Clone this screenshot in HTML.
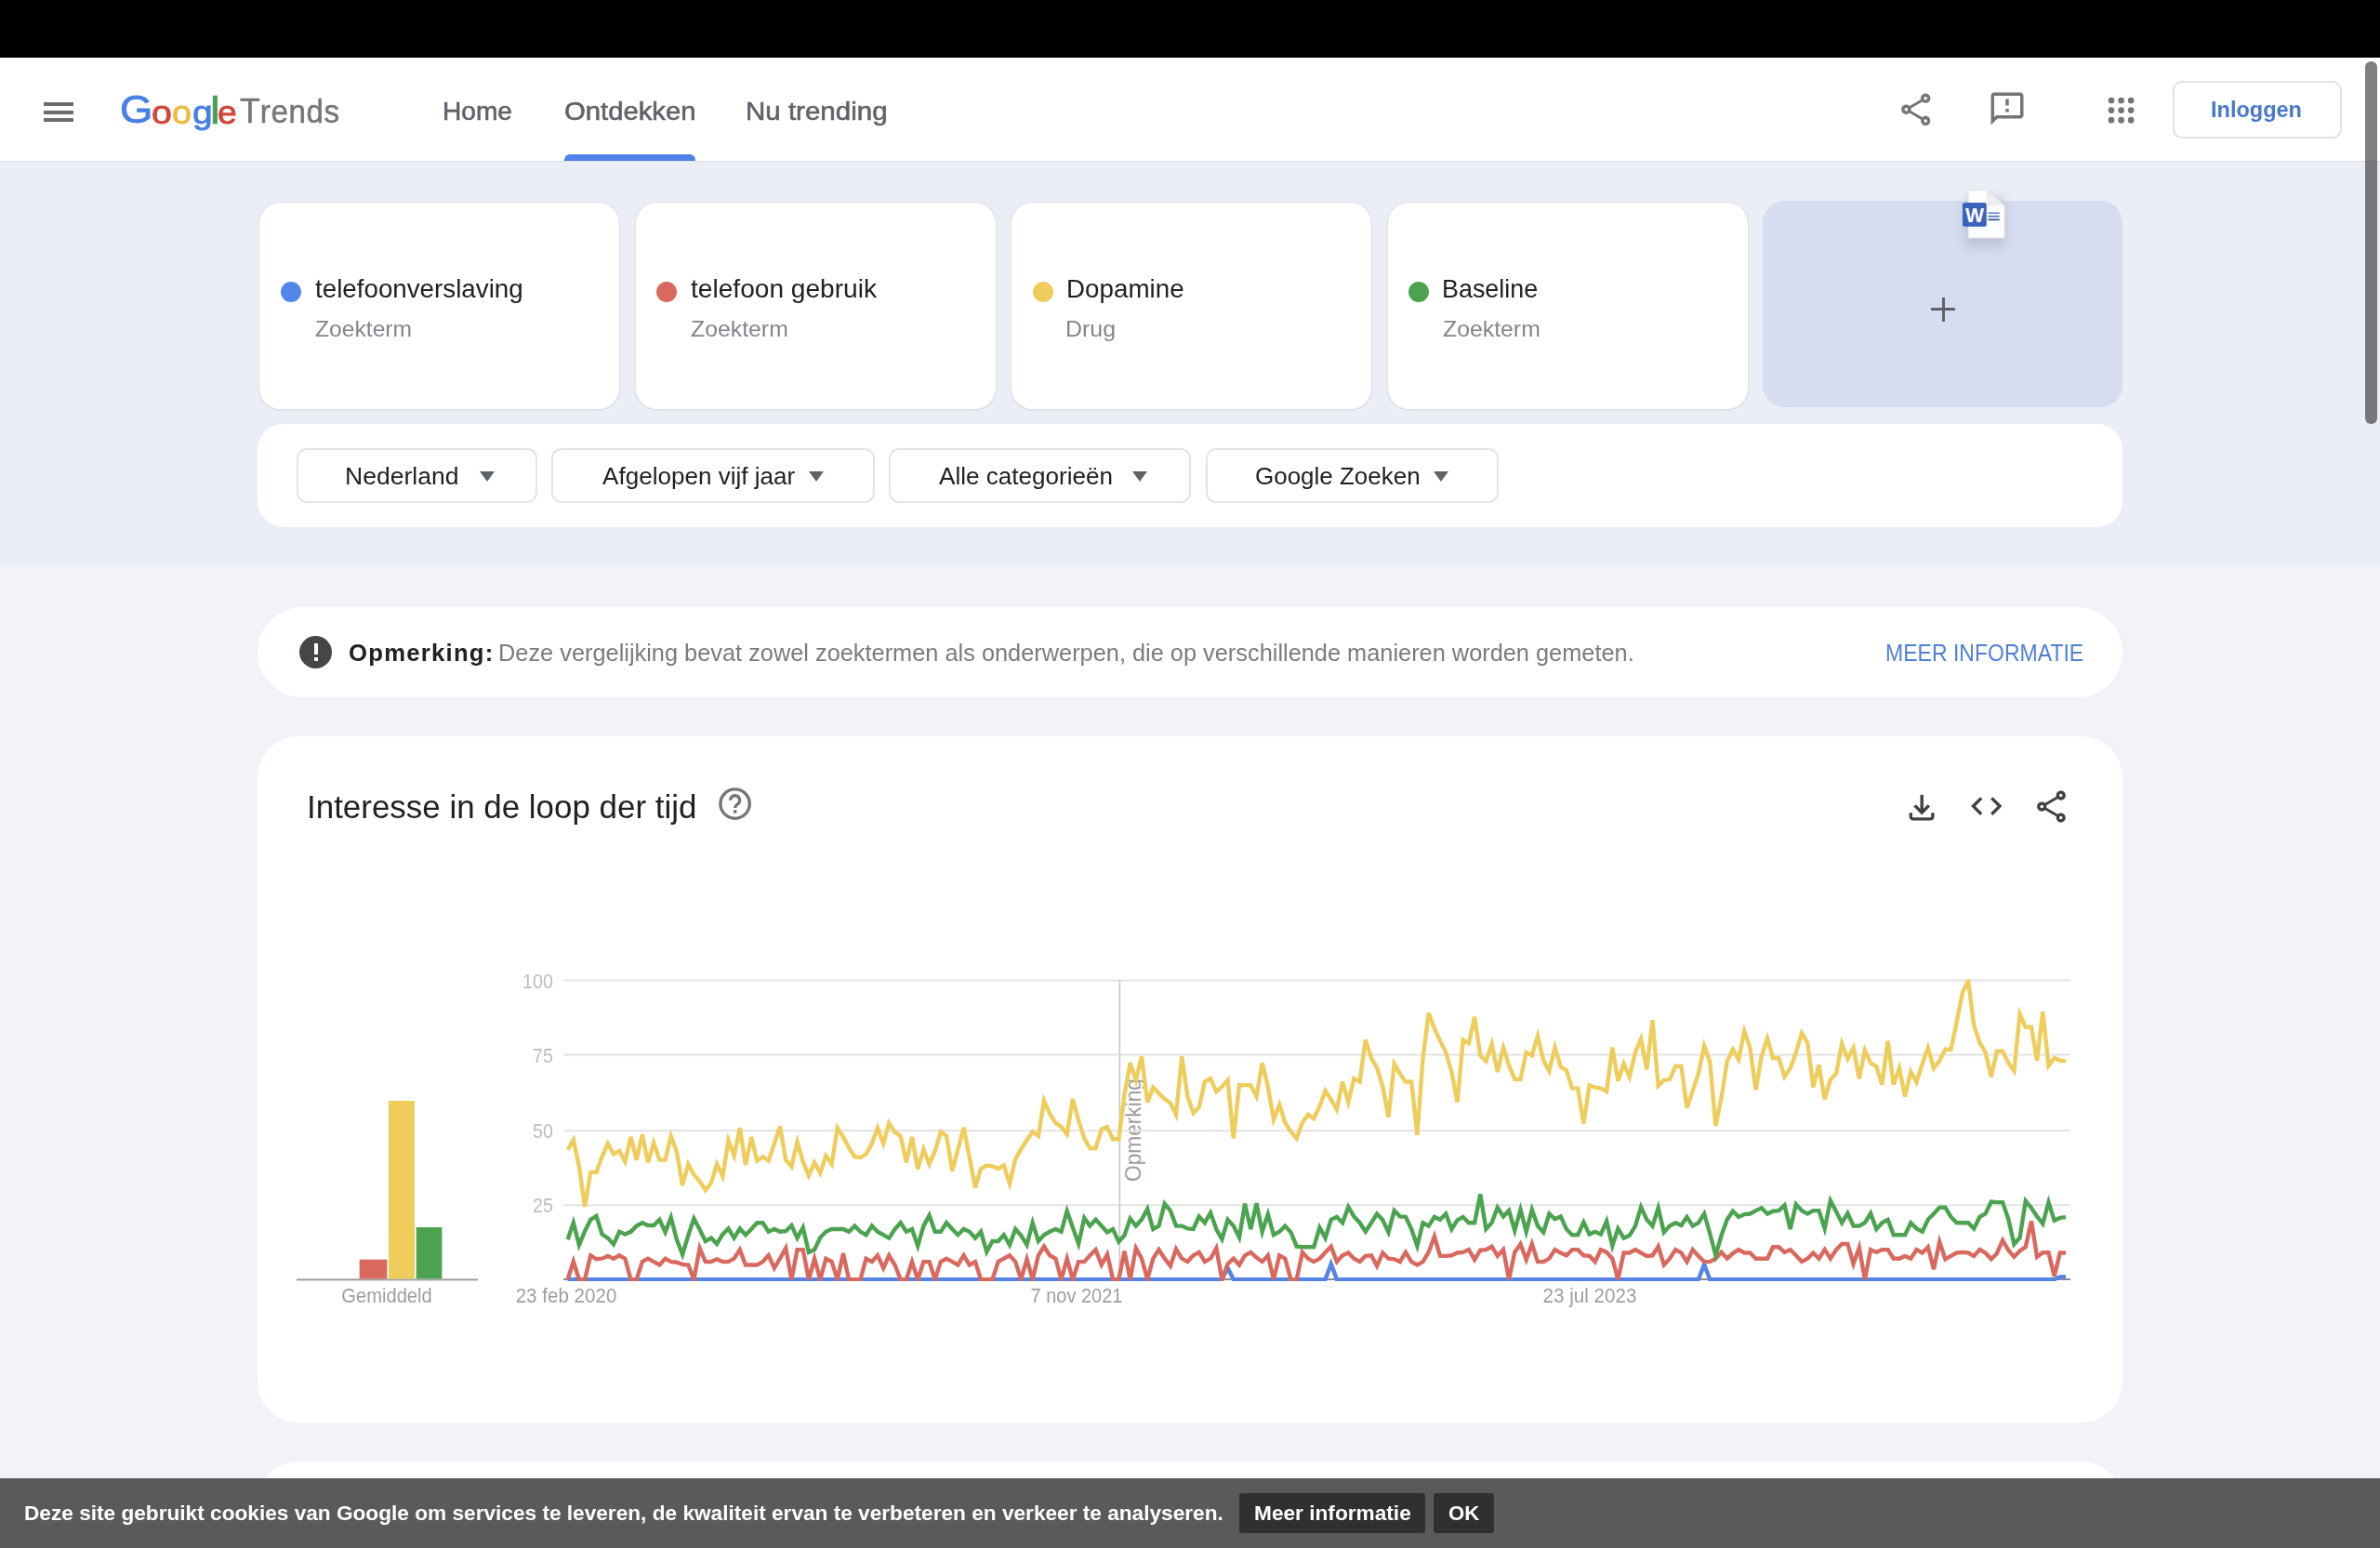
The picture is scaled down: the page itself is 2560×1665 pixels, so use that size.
<!DOCTYPE html>
<html lang="nl">
<head>
<meta charset="utf-8">
<title>Google Trends</title>
<style>
html,body{margin:0;padding:0;}
html{width:2560px;height:1665px;overflow:hidden;}
body{width:2560px;height:1665px;overflow:hidden;position:relative;background:#f1f3f9;font-family:"Liberation Sans",sans-serif;color:#202124;}
.abs{position:absolute;}
.t{position:absolute;white-space:nowrap;line-height:1;transform-origin:0 0;}
#topbar{left:0;top:0;width:2560px;height:62px;background:#000;}
#header{left:0;top:62px;width:2560px;height:111px;background:#fff;}
#hdrline{left:0;top:172.500px;width:2560px;height:1.500px;background:#dfe0e5;}
#sec1{left:0;top:173px;width:2560px;height:436px;background:#ebeef7;}
.card{position:absolute;top:217.300px;width:387px;height:222px;background:#fff;border:1px solid #e1e2e6;border-radius:24px;box-shadow:0 1px 2px rgba(60,64,67,.07);}
.dot{position:absolute;width:22px;height:22px;border-radius:50%;top:303px;}
.term{font-size:28px;color:#202124;top:296.900px;}
.sub{font-size:24px;color:#80868b;top:341.800px;}
#addcard{left:1895.600px;top:215.800px;width:387.600px;height:222.600px;background:#d6ddf0;border-radius:24px;}
#filters{left:277px;top:456px;width:2006px;height:111px;background:#fff;border-radius:28px;}
.fbtn{position:absolute;top:482.400px;height:55px;border:2px solid #e3e4e8;border-radius:11px;background:#fff;}
.ftxt{font-size:26px;color:#202124;top:499.400px;}
.arr{position:absolute;width:0;height:0;border-left:8.5px solid transparent;border-right:8.5px solid transparent;border-top:11px solid #5f6368;top:507px;}
#note{left:277px;top:653px;width:2006px;height:97px;background:#fff;border-radius:48.5px;}
#chartp{left:277px;top:792px;width:2006px;height:738px;background:#fff;border-radius:44px;}
#nextp{left:277px;top:1572px;width:2006px;height:93px;background:#fff;border-radius:44px 44px 0 0;}
#cookie{left:0;top:1590px;width:2560px;height:75px;background:#5a5a5a;}
.cbtn{position:absolute;top:1606px;height:43px;background:#303030;border-radius:3px;}
.ctxt{font-size:22.6px;font-weight:bold;color:#fff;top:1616.700px;}
.nav{font-size:27.500px;color:#5f6368;top:106.200px;-webkit-text-stroke:0.600px #5f6368;}
.ax{font-size:21.2px;color:#bdbdbd;transform:scaleX(.93);transform-origin:100% 0;}
.xl{color:#9e9e9e;transform-origin:50% 0;}
</style>
</head>
<body>
<div class="abs" id="topbar"></div>
<div class="abs" id="header"></div>
<div class="abs" id="sec1"></div>
<div class="abs" id="hdrline"></div>

<!-- HEADER CONTENT -->
<div id="hdr">
<!-- hamburger -->
<div class="abs" style="left:47px;top:110px;width:32px;height:4px;background:#6b6b6b;"></div>
<div class="abs" style="left:47px;top:118.5px;width:32px;height:4px;background:#6b6b6b;"></div>
<div class="abs" style="left:47px;top:127px;width:32px;height:4px;background:#6b6b6b;"></div>
<!-- logo -->
<div class="t" id="lg1" style="left:129.3px;top:97.2px;font-size:42px;color:#4a80e4;-webkit-text-stroke:0.900px #4a80e4;transform:scaleX(1.082);">G</div>
<div class="t" id="lg2" style="left:162.8px;top:103.2px;font-size:35px;color:#d2483d;-webkit-text-stroke:0.900px #d2483d;transform:scaleX(1.122);">o</div>
<div class="t" id="lg3" style="left:185.0px;top:103.2px;font-size:35px;color:#eebc42;-webkit-text-stroke:0.900px #eebc42;transform:scaleX(1.083);">o</div>
<div class="t" id="lg4" style="left:207.0px;top:103.2px;font-size:35px;color:#4a80e4;-webkit-text-stroke:0.900px #4a80e4;transform:scaleX(1.112);">g</div>
<div class="t" id="lg5" style="left:225.7px;top:98.9px;font-size:40px;color:#4a9f58;-webkit-text-stroke:0.700px #4a9f58;transform:scaleX(1.2);">l</div>
<div class="t" id="lg6" style="left:234.4px;top:103.2px;font-size:35px;color:#d2483d;-webkit-text-stroke:0.900px #d2483d;transform:scaleX(1.065);">e</div>
<div class="t" id="logoT" style="left:258.0px;top:101.400px;font-size:37px;-webkit-text-stroke:0.500px #747679;color:#747679;transform:scaleX(0.962);">T<span style="font-size:34.500px;letter-spacing:.600px;">rends</span></div>
<!-- nav -->
<div class="t nav" id="nav1" style="left:475.5px;transform:scaleX(1.021);">Home</div>
<div class="t nav" id="nav2" style="left:606.5px;transform:scaleX(1.064);">Ontdekken</div>
<div class="t nav" id="nav3" style="left:801.9px;transform:scaleX(1.073);">Nu trending</div>
<div class="abs" style="left:607px;top:166.200px;width:141px;height:7px;background:#4f83e6;border-radius:6px 6px 0 0;"></div>
<!-- share icon -->
<svg class="abs" style="left:2040.300px;top:97.200px;" width="41.600" height="41.600" viewBox="0 0 24 24"><path fill="#757575" d="M18 16.08c-.76 0-1.44.3-1.96.77L8.91 12.7c.05-.23.09-.46.09-.7s-.04-.47-.09-.7l7.05-4.11c.54.5 1.25.81 2.04.81 1.66 0 3-1.34 3-3s-1.340-3-3-3-3 1.340-3 3c0 .24.04.47.09.7L8.040 9.810C7.500 9.310 6.790 9 6 9c-1.660 0-3 1.340-3 3s1.340 3 3 3c.79 0 1.500-.31 2.040-.81l7.120 4.160c-.05.21-.08.43-.08.65 0 1.610 1.310 2.920 2.920 2.920s2.920-1.310 2.920-2.920c0-1.610-1.310-2.920-2.920-2.920zM18 4c.55 0 1 .45 1 1s-.45 1-1 1-1-.45-1-1 .45-1 1-1zM6 13c-.55 0-1-.45-1-1s.45-1 1-1 1 .45 1 1-.45 1-1 1zm12 7.020c-.55 0-1-.45-1-1s.45-1 1-1 1 .45 1 1-.45 1-1 1z"/></svg>
<!-- feedback icon -->
<svg class="abs" style="left:2137.600px;top:96px;" width="42" height="42" viewBox="0 0 24 24"><path fill="#757575" d="M20 2H4c-1.100 0-1.990.9-1.990 2L2 22l4-4h14c1.100 0 2-.9 2-2V4c0-1.100-.9-2-2-2zm0 14H5.170L4 17.170V4h16v12zm-9-4h2v2h-2zm0-6h2v4h-2z"/></svg>
<!-- apps grid -->
<svg class="abs" style="left:2267px;top:104px;" width="30" height="30" viewBox="0 0 30 30"><g fill="#757575"><circle cx="4" cy="4" r="3.350"/><circle cx="14.600" cy="4" r="3.350"/><circle cx="25.200" cy="4" r="3.350"/><circle cx="4" cy="14.600" r="3.350"/><circle cx="14.600" cy="14.600" r="3.350"/><circle cx="25.200" cy="14.600" r="3.350"/><circle cx="4" cy="25.200" r="3.350"/><circle cx="14.600" cy="25.200" r="3.350"/><circle cx="25.200" cy="25.200" r="3.350"/></g></svg>
<!-- login -->
<div class="abs" style="left:2336.500px;top:86.500px;width:178px;height:58px;border:2px solid #e1e2e6;border-radius:10px;background:#fff;"></div>
<div class="t" id="login" style="left:2377.8px;top:106.100px;font-size:24px;font-weight:bold;color:#4877cc;transform:scaleX(0.980);">Inloggen</div>
</div>

<!-- CARDS -->
<div id="cards">
<div class="card" style="left:278px;"></div>
<div class="card" style="left:683px;"></div>
<div class="card" style="left:1087px;"></div>
<div class="card" style="left:1492px;"></div>
<div class="abs" id="addcard"></div>
<div class="dot" style="left:302px;background:#5286ea;"></div>
<div class="dot" style="left:706px;background:#d9695f;"></div>
<div class="dot" style="left:1111px;background:#eecd5c;"></div>
<div class="dot" style="left:1515px;background:#4ba350;"></div>
<div class="t term" id="term1" style="left:339.2px;transform:scaleX(0.991);">telefoonverslaving</div>
<div class="t term" id="term2" style="left:743.4px;transform:scaleX(1.004);">telefoon gebruik</div>
<div class="t term" id="term3" style="left:1146.8px;transform:scaleX(0.992);">Dopamine</div>
<div class="t term" id="term4" style="left:1550.7px;transform:scaleX(0.960);">Baseline</div>
<div class="t sub" id="sub1" style="left:338.8px;transform:scaleX(1.027);">Zoekterm</div>
<div class="t sub" id="sub2" style="left:742.9px;transform:scaleX(1.034);">Zoekterm</div>
<div class="t sub" id="sub3" style="left:1146.2px;transform:scaleX(1.039);">Drug</div>
<div class="t sub" id="sub4" style="left:1552.3px;transform:scaleX(1.034);">Zoekterm</div>
<!-- plus -->
<div class="abs" style="left:2077px;top:331px;width:26px;height:3px;background:#5f6368;"></div>
<div class="abs" style="left:2088.5px;top:319.5px;width:3px;height:26px;background:#5f6368;"></div>
<!-- word doc icon -->
<svg class="abs" style="left:2100px;top:195px;overflow:visible;" width="70" height="70" viewBox="0 0 70 70">
<defs><filter id="ds" x="-60%" y="-60%" width="220%" height="220%"><feGaussianBlur stdDeviation="6"/></filter></defs>
<rect x="12" y="16" width="46" height="56" rx="8" fill="#7a7f95" opacity=".24" filter="url(#ds)"/>
<path d="M17.100 9.400 h19.700 l19.400 16.800 v34.900 h-39.100 z" fill="#fdfdfe" stroke="#dcdee4" stroke-width=".800"/>
<path d="M36.800 9.400 l19.400 16.800 h-16.400 q-3 0 -3 -3 z" fill="#eceef3"/>
<rect x="11" y="22.900" width="25.800" height="25.900" rx="2.200" fill="#3a63be"/>
<text x="23.900" y="44.300" font-family="Liberation Sans" font-weight="bold" font-size="22" fill="#fff" text-anchor="middle" textLength="20" lengthAdjust="spacingAndGlyphs">W</text>
<rect x="38.500" y="33.300" width="12.200" height="1.700" fill="#6a92cf"/><rect x="38.500" y="36.800" width="12.200" height="1.700" fill="#4b73be"/><rect x="38.500" y="40.400" width="12.200" height="1.700" fill="#34508a"/>
</svg>
</div>

<!-- FILTERS -->
<div class="abs" id="filters"></div>
<div id="filt">
<div class="fbtn" style="left:319.400px;width:254.700px;"></div>
<div class="fbtn" style="left:593.400px;width:343.200px;"></div>
<div class="fbtn" style="left:956.200px;width:321px;"></div>
<div class="fbtn" style="left:1296.500px;width:311.500px;"></div>
<div class="t ftxt" id="f1" style="left:371.4px;transform:scaleX(1.021);">Nederland</div>
<div class="t ftxt" id="f2" style="left:647.5px;transform:scaleX(1.003);">Afgelopen vijf jaar</div>
<div class="t ftxt" id="f3" style="left:1009.7px;transform:scaleX(1.003);">Alle categorieën</div>
<div class="t ftxt" id="f4" style="left:1349.9px;transform:scaleX(0.999);">Google Zoeken</div>
<div class="arr" style="left:515.500px;"></div>
<div class="arr" style="left:870.100px;"></div>
<div class="arr" style="left:1218.400px;"></div>
<div class="arr" style="left:1542.200px;"></div>
</div>

<!-- NOTE -->
<div class="abs" id="note"></div>
<div id="notec">
<div class="abs" style="left:322px;top:684px;width:35px;height:35px;border-radius:50%;background:#444648;"></div>
<div class="abs" style="left:337.500px;top:692px;width:4px;height:12px;background:#fff;"></div>
<div class="abs" style="left:337.500px;top:707px;width:4px;height:4px;background:#fff;"></div>
<div class="t" id="n1" style="left:374.9px;top:689.800px;font-size:25px;font-weight:bold;color:#202124;letter-spacing:1.200px;transform:scaleX(1.028);">Opmerking:</div>
<div class="t" id="n2" style="left:535.9px;top:689.800px;font-size:25px;color:#7b7b7b;transform:scaleX(1.014);">Deze vergelijking bevat zowel zoektermen als onderwerpen, die op verschillende manieren worden gemeten.</div>
<div class="t" id="n3" style="left:2027.5px;top:689.600px;font-size:25px;color:#4f80d6;transform:scaleX(0.921);">MEER INFORMATIE</div>
</div>

<!-- CHART PANEL -->
<div class="abs" id="chartp"></div>
<div id="chartc">
<div class="t" id="ct" style="left:330.000px;top:849.700px;font-size:35px;color:#202124;transform:scaleX(.998);">Interesse in de loop der tijd</div>
<svg class="abs" style="left:770px;top:845px;" width="40" height="40" viewBox="0 0 40 40"><circle cx="20.600" cy="19.600" r="15.700" fill="none" stroke="#757575" stroke-width="3.300"/><path d="M15.600 15.800 a5 5 0 1 1 7.800 4.100 c-1.700 1.200 -2.700 2 -2.700 4" fill="none" stroke="#757575" stroke-width="3.300"/><rect x="19" y="26.300" width="3.400" height="3.400" fill="#757575"/></svg>
<!-- download -->
<svg class="abs" style="left:2049px;top:851px;" width="36" height="36" viewBox="0 0 36 36"><g fill="none" stroke="#414141" stroke-width="3.400"><path d="M18.200 3.900 v19"/><path d="M10.600 15.400 l7.600 7.600 l7.600 -7.600"/><path d="M6.300 23.300 v4.100 a2.500 2.500 0 0 0 2.500 2.500 h18.600 a2.500 2.500 0 0 0 2.500 -2.500 v-4.100"/></g></svg>
<!-- code -->
<svg class="abs" style="left:2117px;top:853px;" width="40" height="30" viewBox="0 0 40 30"><g fill="none" stroke="#414141" stroke-width="3.400"><path d="M14.200 5.400 l-8.700 8.700 l8.700 8.700"/><path d="M25.300 5.400 l8.700 8.700 l-8.700 8.700"/></g></svg>
<!-- share -->
<svg class="abs" style="left:2186px;top:847px;" width="41" height="41" viewBox="0 0 24 24"><path fill="#414141" d="M18 16.080c-.76 0-1.440.3-1.960.77L8.910 12.700c.05-.23.090-.46.090-.7s-.04-.47-.09-.7l7.050-4.110c.54.5 1.250.81 2.040.81 1.660 0 3-1.340 3-3s-1.340-3-3-3-3 1.340-3 3c0 .24.04.47.09.7L8.040 9.810C7.500 9.310 6.790 9 6 9c-1.660 0-3 1.340-3 3s1.340 3 3 3c.79 0 1.500-.31 2.040-.81l7.120 4.160c-.05.21-.08.43-.08.65 0 1.610 1.310 2.920 2.920 2.920s2.920-1.310 2.920-2.920c0-1.610-1.310-2.920-2.920-2.920zM18 4c.55 0 1 .45 1 1s-.45 1-1 1-1-.45-1-1 .45-1 1-1zM6 13c-.55 0-1-.45-1-1s.45-1 1-1 1 .45 1 1-.45 1-1 1zm12 7.020c-.55 0-1-.45-1-1s.45-1 1-1 1 .45 1 1-.45 1-1 1z"/></svg>
<div class="t" id="opm" style="left:1227px;top:1270.500px;font-size:24px;color:#a0a0a0;transform:rotate(-90deg) scaleX(.945);transform-origin:0 0;line-height:1;"><span style="position:relative;top:-20.300px;">Opmerking</span></div>
<svg class="abs" id="chartsvg" style="left:0;top:0;" width="2560" height="1665" viewBox="0 0 2560 1665">
<defs><clipPath id="plotclip"><rect x="606" y="1053.400" width="1622" height="324.600"/></clipPath></defs>
<rect x="606" y="1053.5" width="1621" height="2" fill="#e3e3e3"/><rect x="606" y="1133.5" width="1621" height="2" fill="#e3e3e3"/><rect x="606" y="1215.2" width="1621" height="2" fill="#e3e3e3"/><rect x="606" y="1295.3" width="1621" height="2" fill="#e3e3e3"/>
<rect x="606" y="1375" width="1621" height="2" fill="#8c8c8c"/>
<rect x="1203.400" y="1054" width="1.800" height="322" fill="#cdcdcd"/>
<rect x="319" y="1375.400" width="195" height="2" fill="#9e9e9e"/>
<rect x="386.700" y="1354.700" width="29.700" height="20.700" fill="#d9695f"/>
<rect x="418" y="1184" width="28" height="191.400" fill="#eecd5c"/>
<rect x="447.700" y="1320" width="27.700" height="55.400" fill="#4ba350"/>
<g fill="none" stroke-width="4.400" stroke-linejoin="miter" stroke-miterlimit="4" clip-path="url(#plotclip)">
<polyline id="pl-blu" stroke="#5585e4" points="610.6,1376.1 616.8,1376.1 622.9,1376.1 629.1,1376.1 635.3,1376.1 641.5,1376.1 647.6,1376.1 653.8,1376.1 660.0,1376.1 666.2,1376.1 672.3,1376.1 678.5,1376.1 684.7,1376.1 690.9,1376.1 697.0,1376.1 703.2,1376.1 709.4,1376.1 715.6,1376.1 721.7,1376.1 727.9,1376.1 734.1,1376.1 740.3,1376.1 746.4,1376.1 752.6,1376.1 758.8,1376.1 765.0,1376.1 771.1,1376.1 777.3,1376.1 783.5,1376.1 789.6,1376.1 795.8,1376.1 802.0,1376.1 808.2,1376.1 814.3,1376.1 820.5,1376.1 826.7,1376.1 832.9,1376.1 839.0,1376.1 845.2,1376.1 851.4,1376.1 857.6,1376.1 863.7,1376.1 869.9,1376.1 876.1,1376.1 882.3,1376.1 888.4,1376.1 894.6,1376.1 900.8,1376.1 907.0,1376.1 913.1,1376.1 919.3,1376.1 925.5,1376.1 931.6,1376.1 937.8,1376.1 944.0,1376.1 950.2,1376.1 956.3,1376.1 962.5,1376.1 968.7,1376.1 974.9,1376.1 981.0,1376.1 987.2,1376.1 993.4,1376.1 999.6,1376.1 1005.7,1376.1 1011.9,1376.1 1018.1,1376.1 1024.3,1376.1 1030.4,1376.1 1036.6,1376.1 1042.8,1376.1 1049.0,1376.1 1055.1,1376.1 1061.3,1376.1 1067.5,1376.1 1073.7,1376.1 1079.8,1376.1 1086.0,1376.1 1092.2,1376.1 1098.3,1376.1 1104.5,1376.1 1110.7,1376.1 1116.9,1376.1 1123.0,1376.1 1129.2,1376.1 1135.4,1376.1 1141.6,1376.1 1147.7,1376.1 1153.9,1376.1 1160.1,1376.1 1166.3,1376.1 1172.4,1376.1 1178.6,1376.1 1184.8,1376.1 1191.0,1376.1 1197.1,1376.1 1203.3,1376.1 1209.5,1376.1 1215.7,1376.1 1221.8,1376.1 1228.0,1376.1 1234.2,1376.1 1240.3,1376.1 1246.5,1376.1 1252.7,1376.1 1258.9,1376.1 1265.0,1376.1 1271.2,1376.1 1277.4,1376.1 1283.6,1376.1 1289.7,1376.1 1295.9,1376.1 1302.1,1376.1 1308.3,1376.1 1314.4,1376.1 1320.6,1363.9 1326.8,1376.1 1333.0,1376.1 1339.1,1376.1 1345.3,1376.1 1351.5,1376.1 1357.7,1376.1 1363.8,1376.1 1370.0,1376.1 1376.2,1376.1 1382.3,1376.1 1388.5,1376.1 1394.7,1376.1 1400.9,1376.1 1407.0,1376.1 1413.2,1376.1 1419.4,1376.1 1425.6,1376.1 1431.7,1359.4 1437.9,1376.1 1444.1,1376.1 1450.3,1376.1 1456.4,1376.1 1462.6,1376.1 1468.8,1376.1 1475.0,1376.1 1481.1,1376.1 1487.3,1376.1 1493.5,1376.1 1499.7,1376.1 1505.8,1376.1 1512.0,1376.1 1518.2,1376.1 1524.4,1376.1 1530.5,1376.1 1536.7,1376.1 1542.9,1376.1 1549.0,1376.1 1555.2,1376.1 1561.4,1376.1 1567.6,1376.1 1573.7,1376.1 1579.9,1376.1 1586.1,1376.1 1592.3,1376.1 1598.4,1376.1 1604.6,1376.1 1610.8,1376.1 1617.0,1376.1 1623.1,1376.1 1629.3,1376.1 1635.5,1376.1 1641.7,1376.1 1647.8,1376.1 1654.0,1376.1 1660.2,1376.1 1666.4,1376.1 1672.5,1376.1 1678.7,1376.1 1684.9,1376.1 1691.1,1376.1 1697.2,1376.1 1703.4,1376.1 1709.6,1376.1 1715.7,1376.1 1721.9,1376.1 1728.1,1376.1 1734.3,1376.1 1740.4,1376.1 1746.6,1376.1 1752.8,1376.1 1759.0,1376.1 1765.1,1376.1 1771.3,1376.1 1777.5,1376.1 1783.7,1376.1 1789.8,1376.1 1796.0,1376.1 1802.2,1376.1 1808.4,1376.1 1814.5,1376.1 1820.7,1376.1 1826.9,1376.1 1833.1,1360.0 1839.2,1376.1 1845.4,1376.1 1851.6,1376.1 1857.7,1376.1 1863.9,1376.1 1870.1,1376.1 1876.3,1376.1 1882.4,1376.1 1888.6,1376.1 1894.8,1376.1 1901.0,1376.1 1907.1,1376.1 1913.3,1376.1 1919.5,1376.1 1925.7,1376.1 1931.8,1376.1 1938.0,1376.1 1944.2,1376.1 1950.4,1376.1 1956.5,1376.1 1962.7,1376.1 1968.9,1376.1 1975.1,1376.1 1981.2,1376.1 1987.4,1376.1 1993.6,1376.1 1999.8,1376.1 2005.9,1376.1 2012.1,1376.1 2018.3,1376.1 2024.4,1376.1 2030.6,1376.1 2036.8,1376.1 2043.0,1376.1 2049.1,1376.1 2055.3,1376.1 2061.5,1376.1 2067.7,1376.1 2073.8,1376.1 2080.0,1376.1 2086.2,1376.1 2092.4,1376.1 2098.5,1376.1 2104.7,1376.1 2110.9,1376.1 2117.1,1376.1 2123.2,1376.1 2129.4,1376.1 2135.6,1376.1 2141.8,1376.1 2147.9,1376.1 2154.1,1376.1 2160.3,1376.1 2166.4,1376.1 2172.6,1376.1 2178.8,1376.1 2185.0,1376.1 2191.1,1376.1 2197.3,1376.1 2203.5,1376.1 2209.7,1376.1 2215.8,1373.5 2222.0,1373.2"/>
<polyline id="pl-red" stroke="#d9695f" points="610.6,1376.1 616.8,1356.8 622.9,1376.1 629.1,1376.1 635.3,1350.3 641.5,1354.3 647.6,1353.7 653.8,1350.9 660.0,1353.7 666.2,1350.3 672.3,1353.7 678.5,1376.1 684.7,1376.1 690.9,1357.1 697.0,1353.7 703.2,1357.1 709.4,1360.5 715.6,1353.7 721.7,1357.1 727.9,1357.7 734.1,1360.0 740.3,1360.5 746.4,1376.1 752.6,1342.4 758.8,1357.1 765.0,1357.1 771.1,1354.3 777.3,1357.1 783.5,1357.1 789.6,1353.7 795.8,1344.1 802.0,1360.5 808.2,1360.5 814.3,1360.5 820.5,1357.1 826.7,1350.3 832.9,1363.9 839.0,1353.7 845.2,1342.4 851.4,1376.1 857.6,1344.1 863.7,1344.1 869.9,1376.1 876.1,1353.7 882.3,1376.1 888.4,1353.7 894.6,1357.1 900.8,1376.1 907.0,1348.1 913.1,1376.1 919.3,1376.1 925.5,1376.1 931.6,1353.7 937.8,1357.1 944.0,1350.3 950.2,1363.9 956.3,1350.3 962.5,1360.5 968.7,1376.1 974.9,1376.1 981.0,1357.1 987.2,1376.1 993.4,1357.1 999.6,1357.1 1005.7,1376.1 1011.9,1357.1 1018.1,1353.7 1024.3,1357.1 1030.4,1360.5 1036.6,1350.3 1042.8,1360.5 1049.0,1357.1 1055.1,1376.1 1061.3,1376.1 1067.5,1376.1 1073.7,1357.1 1079.8,1353.7 1086.0,1350.3 1092.2,1357.1 1098.3,1376.1 1104.5,1354.3 1110.7,1376.1 1116.9,1350.3 1123.0,1340.7 1129.2,1350.3 1135.4,1353.7 1141.6,1376.1 1147.7,1353.7 1153.9,1376.1 1160.1,1357.1 1166.3,1357.1 1172.4,1350.3 1178.6,1344.1 1184.8,1360.5 1191.0,1349.2 1197.1,1376.1 1203.3,1376.1 1209.5,1345.8 1215.7,1376.1 1221.8,1342.4 1228.0,1353.7 1234.2,1376.1 1240.3,1353.7 1246.5,1344.1 1252.7,1353.7 1258.9,1361.7 1265.0,1343.5 1271.2,1353.7 1277.4,1357.1 1283.6,1350.3 1289.7,1346.9 1295.9,1357.1 1302.1,1353.7 1308.3,1342.4 1314.4,1376.1 1320.6,1359.4 1326.8,1353.7 1333.0,1360.5 1339.1,1350.3 1345.3,1346.9 1351.5,1352.6 1357.7,1357.1 1363.8,1350.3 1370.0,1376.1 1376.2,1350.3 1382.3,1353.7 1388.5,1376.1 1394.7,1376.1 1400.9,1346.9 1407.0,1353.7 1413.2,1357.1 1419.4,1353.7 1425.6,1346.9 1431.7,1340.7 1437.9,1357.1 1444.1,1350.3 1450.3,1347.5 1456.4,1353.7 1462.6,1357.1 1468.8,1350.9 1475.0,1350.3 1481.1,1361.7 1487.3,1347.5 1493.5,1353.7 1499.7,1354.3 1505.8,1357.1 1512.0,1346.9 1518.2,1357.1 1524.4,1360.5 1530.5,1357.1 1536.7,1346.9 1542.9,1329.9 1549.0,1350.9 1555.2,1350.9 1561.4,1350.3 1567.6,1347.5 1573.7,1346.9 1579.9,1344.1 1586.1,1354.9 1592.3,1344.7 1598.4,1344.1 1604.6,1340.7 1610.8,1350.9 1617.0,1344.1 1623.1,1376.1 1629.3,1346.9 1635.5,1337.9 1641.7,1354.9 1647.8,1337.9 1654.0,1357.1 1660.2,1357.1 1666.4,1353.7 1672.5,1344.1 1678.7,1347.5 1684.9,1350.3 1691.1,1344.1 1697.2,1344.1 1703.4,1350.3 1709.6,1350.9 1715.7,1357.1 1721.9,1344.1 1728.1,1346.9 1734.3,1353.7 1740.4,1376.1 1746.6,1347.5 1752.8,1347.5 1759.0,1344.1 1765.1,1347.5 1771.3,1350.9 1777.5,1350.3 1783.7,1340.7 1789.8,1360.5 1796.0,1353.7 1802.2,1344.1 1808.4,1347.5 1814.5,1357.1 1820.7,1344.1 1826.9,1350.9 1833.1,1357.1 1839.2,1357.1 1845.4,1353.7 1851.6,1346.9 1857.7,1353.7 1863.9,1348.1 1870.1,1344.1 1876.3,1347.5 1882.4,1347.5 1888.6,1353.7 1894.8,1353.7 1901.0,1353.7 1907.1,1341.3 1913.3,1341.3 1919.5,1346.9 1925.7,1344.1 1931.8,1350.3 1938.0,1357.1 1944.2,1353.7 1950.4,1347.5 1956.5,1353.7 1962.7,1344.1 1968.9,1353.7 1975.1,1344.1 1981.2,1337.9 1987.4,1337.9 1993.6,1359.4 1999.8,1341.8 2005.9,1376.1 2012.1,1344.1 2018.3,1346.9 2024.4,1344.1 2030.6,1344.1 2036.8,1353.7 2043.0,1353.7 2049.1,1350.9 2055.3,1353.7 2061.5,1344.1 2067.7,1347.5 2073.8,1341.3 2080.0,1365.1 2086.2,1335.6 2092.4,1354.3 2098.5,1350.9 2104.7,1347.5 2110.9,1346.9 2117.1,1347.5 2123.2,1350.9 2129.4,1344.1 2135.6,1347.5 2141.8,1354.3 2147.9,1348.2 2154.1,1334.0 2160.3,1344.7 2166.4,1351.8 2172.6,1345.4 2178.8,1341.1 2185.0,1313.4 2191.1,1351.8 2197.3,1347.2 2203.5,1347.2 2209.7,1372.8 2215.8,1347.5 2222.0,1347.5"/>
<polyline id="pl-yel" stroke="#eecd5c" points="610.6,1236.7 616.8,1226.1 622.9,1254.7 629.1,1297.9 635.3,1260.9 641.5,1260.9 647.6,1244.1 653.8,1230.0 660.0,1241.5 666.2,1237.9 672.3,1249.4 678.5,1222.9 684.7,1247.6 690.9,1220.3 697.0,1250.3 703.2,1229.1 709.4,1247.6 715.6,1247.6 721.7,1222.1 727.9,1238.8 734.1,1275.0 740.3,1252.1 746.4,1263.5 752.6,1270.6 758.8,1280.3 765.0,1272.3 771.1,1252.1 777.3,1265.3 783.5,1226.5 789.6,1243.2 795.8,1213.2 802.0,1252.9 808.2,1222.9 814.3,1248.5 820.5,1244.1 826.7,1248.5 832.9,1230.0 839.0,1211.5 845.2,1247.6 851.4,1254.7 857.6,1228.2 863.7,1249.4 869.9,1264.4 876.1,1250.3 882.3,1261.8 888.4,1243.2 894.6,1252.1 900.8,1213.2 907.0,1222.9 913.1,1234.4 919.3,1244.1 925.5,1245.0 931.6,1241.5 937.8,1230.0 944.0,1213.2 950.2,1230.0 956.3,1207.9 962.5,1217.6 968.7,1222.1 974.9,1250.3 981.0,1222.9 987.2,1257.3 993.4,1236.2 999.6,1252.1 1005.7,1237.9 1011.9,1217.6 1018.1,1221.8 1024.3,1259.7 1030.4,1236.2 1036.6,1212.9 1042.8,1244.7 1049.0,1277.3 1055.1,1257.0 1061.3,1253.5 1067.5,1254.4 1073.7,1257.0 1079.8,1253.5 1086.0,1272.9 1092.2,1246.5 1098.3,1235.9 1104.5,1226.2 1110.7,1217.3 1116.9,1221.8 1123.0,1183.8 1129.2,1197.9 1135.4,1207.6 1141.6,1212.1 1147.7,1220.0 1153.9,1182.1 1160.1,1205.0 1166.3,1224.4 1172.4,1235.0 1178.6,1235.0 1184.8,1214.7 1191.0,1212.1 1197.1,1225.3 1203.3,1225.3 1209.5,1177.6 1215.7,1143.2 1221.8,1161.8 1228.0,1136.2 1234.2,1185.6 1240.3,1169.7 1246.5,1175.9 1252.7,1182.1 1258.9,1186.5 1265.0,1198.8 1271.2,1136.2 1277.4,1179.4 1283.6,1197.1 1289.7,1190.9 1295.9,1163.5 1302.1,1160.0 1308.3,1174.1 1314.4,1168.8 1320.6,1161.8 1326.8,1224.4 1333.0,1167.1 1339.1,1167.1 1345.3,1167.1 1351.5,1179.4 1357.7,1143.2 1363.8,1168.8 1370.0,1204.1 1376.2,1188.2 1382.3,1207.6 1388.5,1217.3 1394.7,1224.4 1400.9,1207.6 1407.0,1198.8 1413.2,1203.2 1419.4,1190.0 1425.6,1173.2 1431.7,1182.9 1437.9,1193.5 1444.1,1163.5 1450.3,1185.6 1456.4,1160.0 1462.6,1163.5 1468.8,1118.5 1475.0,1137.9 1481.1,1148.5 1487.3,1168.8 1493.5,1201.5 1499.7,1144.1 1505.8,1154.7 1512.0,1163.5 1518.2,1163.5 1524.4,1220.9 1530.5,1138.8 1536.7,1089.4 1542.9,1106.2 1549.0,1119.4 1555.2,1131.8 1561.4,1152.9 1567.6,1185.6 1573.7,1118.5 1579.9,1122.1 1586.1,1093.8 1592.3,1135.3 1598.4,1141.5 1604.6,1122.9 1610.8,1152.9 1617.0,1126.5 1623.1,1145.9 1629.3,1160.9 1635.5,1160.9 1641.7,1131.8 1647.8,1135.3 1654.0,1114.1 1660.2,1140.6 1666.4,1152.1 1672.5,1126.5 1678.7,1147.6 1684.9,1151.2 1691.1,1170.6 1697.2,1170.6 1703.4,1208.5 1709.6,1167.1 1715.7,1169.7 1721.9,1170.6 1728.1,1174.1 1734.3,1126.5 1740.4,1162.6 1746.6,1144.1 1752.8,1158.2 1759.0,1131.8 1765.1,1117.6 1771.3,1150.3 1777.5,1097.3 1783.7,1167.9 1789.8,1161.8 1796.0,1160.9 1802.2,1146.8 1808.4,1146.8 1814.5,1191.6 1820.7,1173.1 1826.9,1154.6 1833.1,1125.0 1839.2,1141.7 1845.4,1211.0 1851.6,1180.5 1857.7,1141.7 1863.9,1128.7 1870.1,1139.8 1876.3,1109.3 1882.4,1126.9 1888.6,1172.2 1894.8,1136.1 1901.0,1116.7 1907.1,1138.0 1913.3,1138.0 1919.5,1158.3 1925.7,1149.1 1931.8,1132.4 1938.0,1111.2 1944.2,1121.3 1950.4,1169.4 1956.5,1145.4 1962.7,1182.4 1968.9,1161.1 1975.1,1154.6 1981.2,1122.3 1987.4,1138.9 1993.6,1126.9 1999.8,1160.2 2005.9,1129.7 2012.1,1143.5 2018.3,1147.2 2024.4,1166.6 2030.6,1119.5 2036.8,1166.6 2043.0,1149.1 2049.1,1179.6 2055.3,1152.8 2061.5,1163.9 2067.7,1144.5 2073.8,1126.9 2080.0,1149.1 2086.2,1140.8 2092.4,1128.7 2098.5,1128.7 2104.7,1099.2 2110.9,1067.7 2117.1,1054.8 2123.2,1102.9 2129.4,1121.3 2135.6,1131.5 2141.8,1158.3 2147.9,1130.6 2154.1,1130.6 2160.3,1143.5 2166.4,1151.9 2172.6,1090.8 2178.8,1104.7 2185.0,1104.7 2191.1,1140.8 2197.3,1088.1 2203.5,1146.3 2209.7,1138.0 2215.8,1140.8 2222.0,1141.3"/>
<polyline id="pl-grn" stroke="#4ba350" points="610.6,1333.3 616.8,1315.2 622.9,1339.0 629.1,1324.2 635.3,1311.8 641.5,1307.8 647.6,1327.6 653.8,1331.6 660.0,1338.4 666.2,1324.8 672.3,1327.6 678.5,1324.8 684.7,1318.6 690.9,1315.2 697.0,1318.0 703.2,1318.0 709.4,1311.8 715.6,1325.4 721.7,1309.5 727.9,1333.3 734.1,1349.2 740.3,1328.8 746.4,1310.6 752.6,1322.5 758.8,1335.0 765.0,1331.6 771.1,1337.9 777.3,1327.6 783.5,1321.4 789.6,1331.6 795.8,1321.4 802.0,1328.2 808.2,1322.0 814.3,1315.2 820.5,1315.2 826.7,1324.8 832.9,1322.0 839.0,1324.8 845.2,1324.2 851.4,1318.0 857.6,1331.6 863.7,1320.3 869.9,1346.9 876.1,1344.1 882.3,1331.0 888.4,1324.8 894.6,1322.0 900.8,1322.0 907.0,1322.0 913.1,1324.8 919.3,1318.6 925.5,1324.8 931.6,1328.2 937.8,1318.6 944.0,1324.8 950.2,1328.2 956.3,1331.6 962.5,1322.0 968.7,1315.2 974.9,1324.8 981.0,1322.0 987.2,1340.1 993.4,1318.6 999.6,1307.2 1005.7,1324.8 1011.9,1324.8 1018.1,1315.2 1024.3,1322.0 1030.4,1328.2 1036.6,1322.0 1042.8,1324.8 1049.0,1331.6 1055.1,1324.8 1061.3,1346.4 1067.5,1335.0 1073.7,1335.0 1079.8,1328.2 1086.0,1339.0 1092.2,1322.0 1098.3,1328.8 1104.5,1339.0 1110.7,1315.2 1116.9,1335.0 1123.0,1328.2 1129.2,1324.8 1135.4,1322.0 1141.6,1324.8 1147.7,1302.7 1153.9,1320.3 1160.1,1337.9 1166.3,1310.1 1172.4,1318.6 1178.6,1311.8 1184.8,1318.6 1191.0,1325.4 1197.1,1322.0 1203.3,1335.6 1209.5,1328.8 1215.7,1310.6 1221.8,1318.6 1228.0,1311.8 1234.2,1300.4 1240.3,1322.0 1246.5,1318.6 1252.7,1294.7 1258.9,1302.1 1265.0,1318.6 1271.2,1318.6 1277.4,1321.4 1283.6,1322.0 1289.7,1308.4 1295.9,1315.2 1302.1,1304.4 1308.3,1322.0 1314.4,1332.8 1320.6,1311.8 1326.8,1318.6 1333.0,1331.0 1339.1,1294.7 1345.3,1322.0 1351.5,1294.2 1357.7,1324.8 1363.8,1306.1 1370.0,1328.2 1376.2,1324.8 1382.3,1318.6 1388.5,1325.4 1394.7,1340.7 1400.9,1341.3 1407.0,1341.3 1413.2,1341.3 1419.4,1320.3 1425.6,1331.6 1431.7,1311.8 1437.9,1308.9 1444.1,1315.2 1450.3,1298.2 1456.4,1308.4 1462.6,1315.2 1468.8,1324.8 1475.0,1315.2 1481.1,1305.5 1487.3,1312.3 1493.5,1325.4 1499.7,1302.1 1505.8,1308.4 1512.0,1308.9 1518.2,1322.0 1524.4,1340.1 1530.5,1315.2 1536.7,1318.6 1542.9,1308.9 1549.0,1311.8 1555.2,1305.5 1561.4,1322.0 1567.6,1312.3 1573.7,1308.9 1579.9,1315.2 1586.1,1315.2 1592.3,1284.5 1598.4,1322.0 1604.6,1315.2 1610.8,1298.7 1617.0,1308.4 1623.1,1302.1 1629.3,1323.7 1635.5,1301.0 1641.7,1324.8 1647.8,1301.0 1654.0,1318.6 1660.2,1325.4 1666.4,1305.5 1672.5,1311.2 1678.7,1308.4 1684.9,1322.0 1691.1,1328.2 1697.2,1328.2 1703.4,1314.6 1709.6,1327.6 1715.7,1324.8 1721.9,1327.6 1728.1,1313.5 1734.3,1340.1 1740.4,1321.4 1746.6,1331.6 1752.8,1328.8 1759.0,1318.6 1765.1,1298.2 1771.3,1311.8 1777.5,1318.6 1783.7,1299.3 1789.8,1325.4 1796.0,1318.6 1802.2,1315.2 1808.4,1318.0 1814.5,1308.9 1820.7,1318.6 1826.9,1315.2 1833.1,1305.5 1839.2,1326.5 1845.4,1350.3 1851.6,1328.8 1857.7,1311.8 1863.9,1302.7 1870.1,1308.9 1876.3,1306.1 1882.4,1305.5 1888.6,1302.1 1894.8,1299.3 1901.0,1305.5 1907.1,1302.7 1913.3,1302.1 1919.5,1296.4 1925.7,1322.0 1931.8,1295.3 1938.0,1302.1 1944.2,1305.5 1950.4,1302.1 1956.5,1302.1 1962.7,1321.4 1968.9,1291.3 1975.1,1303.3 1981.2,1315.2 1987.4,1305.0 1993.6,1318.6 1999.8,1318.6 2005.9,1315.2 2012.1,1305.0 2018.3,1322.0 2024.4,1315.2 2030.6,1311.8 2036.8,1328.2 2043.0,1328.2 2049.1,1328.2 2055.3,1315.2 2061.5,1321.4 2067.7,1324.8 2073.8,1311.8 2080.0,1305.5 2086.2,1298.7 2092.4,1298.7 2098.5,1308.9 2104.7,1315.2 2110.9,1315.2 2117.1,1315.2 2123.2,1321.4 2129.4,1308.9 2135.6,1305.5 2141.8,1292.5 2147.9,1293.1 2154.1,1293.1 2160.3,1311.3 2166.4,1338.3 2172.6,1331.2 2178.8,1291.7 2185.0,1299.2 2191.1,1308.4 2197.3,1316.2 2203.5,1293.1 2209.7,1312.7 2215.8,1309.9 2222.0,1309.1"/>
</g>
</svg>
<div class="t ax" id="y100" style="left:495px;width:100px;text-align:right;top:1044.600px;">100</div>
<div class="t ax" id="y75" style="left:495px;width:100px;text-align:right;top:1124.500px;">75</div>
<div class="t ax" id="y50" style="left:495px;width:100px;text-align:right;top:1206.200px;">50</div>
<div class="t ax" id="y25" style="left:495px;width:100px;text-align:right;top:1286.300px;">25</div>
<div class="t ax xl" id="xg" style="left:315.600px;width:200px;text-align:center;top:1383px;transform:scaleX(.952);">Gemiddeld</div>
<div class="t ax xl" id="x1" style="left:509.100px;width:200px;text-align:center;top:1382.600px;transform:scaleX(.971);">23 feb 2020</div>
<div class="t ax xl" id="x2" style="left:1057.900px;width:200px;text-align:center;top:1382.600px;transform:scaleX(.943);">7 nov 2021</div>
<div class="t ax xl" id="x3" style="left:1609.800px;width:200px;text-align:center;top:1382.600px;transform:scaleX(.972);">23 jul 2023</div>
</div>

<div class="abs" id="nextp"></div>

<!-- COOKIE BAR -->
<div class="abs" id="cookie"></div>
<div id="cookiec">
<div class="t ctxt" id="c1" style="left:25.9px;transform:scaleX(1.002);">Deze site gebruikt cookies van Google om services te leveren, de kwaliteit ervan te verbeteren en verkeer te analyseren.</div>
<div class="cbtn" style="left:1333px;width:200px;"></div>
<div class="cbtn" style="left:1542px;width:65px;"></div>
<div class="t ctxt" id="c2" style="left:1348.6px;transform:scaleX(1.003);">Meer informatie</div>
<div class="t ctxt" id="c3" style="left:1557.9px;transform:scaleX(0.982);">OK</div>
</div>

<!-- SCROLLBAR -->
<div class="abs" id="scroll" style="left:2544.300px;top:66px;width:12.500px;height:390px;border-radius:6.250px;background:rgba(0,0,0,.5);"></div>
</body>
</html>
